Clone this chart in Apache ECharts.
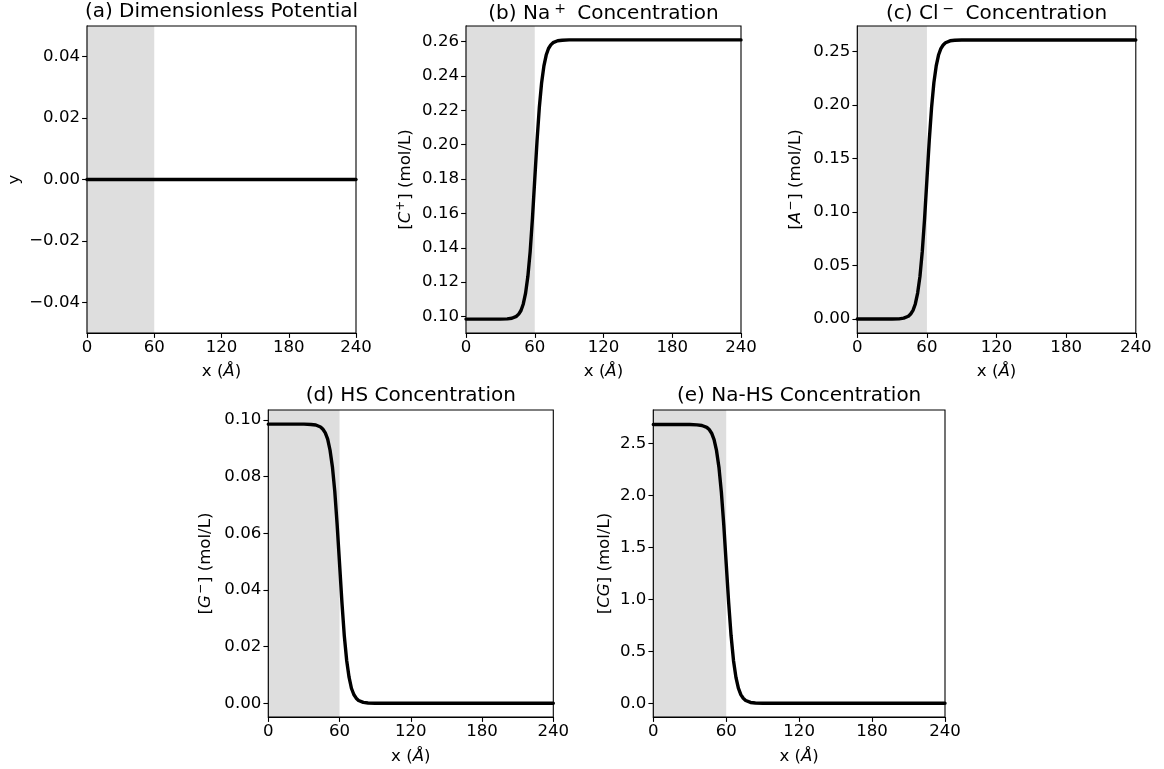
<!DOCTYPE html>
<html>
<head>
<meta charset="utf-8">
<script src="https://cdn.jsdelivr.net/npm/echarts@6/dist/echarts.min.js"></script>
<style>
html,body{margin:0;padding:0;background:#fff;}
#chart{width:1164px;height:769px;}
</style>
</head>
<body>
<div id="chart"></div>
<script>
// ---------------- data ----------------
const xPos = [0,10,20,30,36,40,44,46,48,50,52,54,56,58,60,62,64,66,68,70,72,74,76,80,84,90,100,120,140,160,180,200,220,240];
const potential = [0,0,0,0,0,0,0,0,0,0,0,0,0,0,0,0,0,0,0,0,0,0,0,0,0,0,0,0,0,0,0,0,0,0];
const naConc = [0.0985,0.0985,0.0985,0.0985,0.0986,0.0990,0.1001,0.1014,0.1035,0.1073,0.1136,0.1234,0.1378,0.1572,0.1798,0.2023,0.2217,0.2361,0.2459,0.2522,0.2560,0.2581,0.2594,0.2605,0.2608,0.2610,0.2610,0.2610,0.2610,0.2610,0.2610,0.2610,0.2610,0.2610];
const clConc = [0,0,0,0,0.0002,0.0009,0.0026,0.0047,0.0081,0.0141,0.0243,0.0399,0.0632,0.0942,0.1305,0.1668,0.1978,0.2211,0.2367,0.2469,0.2529,0.2563,0.2584,0.2602,0.2607,0.2610,0.2610,0.2610,0.2610,0.2610,0.2610,0.2610,0.2610,0.2610];
const hsConc = [0.0985,0.0985,0.0985,0.0985,0.0984,0.0982,0.0975,0.0967,0.0954,0.0932,0.0893,0.0834,0.0747,0.0629,0.0493,0.0356,0.0238,0.0151,0.0092,0.0053,0.0031,0.0018,0.0010,0.0003,0.0001,0,0,0,0,0,0,0,0,0];
const cgConc = [2.680,2.680,2.680,2.680,2.677,2.671,2.653,2.632,2.597,2.535,2.431,2.270,2.031,1.713,1.340,0.969,0.649,0.410,0.249,0.145,0.083,0.048,0.027,0.008,0.003,0,0,0,0,0,0,0,0,0];
const shadedRegion = [0, 60];
const xTicks = [0, 60, 120, 180, 240];
const yTicksA = [-0.04, -0.02, 0, 0.02, 0.04];
const yTicksB = [0.10, 0.12, 0.14, 0.16, 0.18, 0.20, 0.22, 0.24, 0.26];
const yTicksC = [0, 0.05, 0.10, 0.15, 0.20, 0.25];
const yTicksD = [0, 0.02, 0.04, 0.06, 0.08, 0.10];
const yTicksE = [0, 0.5, 1.0, 1.5, 2.0, 2.5];
const titles = ['(a) Dimensionless Potential', '(b) Na{sup|+} Concentration', '(c) Cl{sup|−} Concentration', '(d) HS Concentration', '(e) Na-HS Concentration'];
const yNames = ['y', '[{i|C}{sup|+}] (mol/L)', '[{i|A}{sup|−}] (mol/L)', '[{i|G}{sup|−}] (mol/L)', '[{i|CG}] (mol/L)'];
const xName = 'x ({i|Å})';

// ---------------- layout ----------------
const FONT = 'DejaVu Sans';
const FS = 16.6;
const TFS = 20;
const panels = [
  {series: potential, ticks: yTicksA, dec: 2, left: 87, top: 26, w: 269, h: 307, yMin: -0.05, yMax: 0.05, nameGap: 64, xGap: 30},
  {series: naConc, ticks: yTicksB, dec: 2, left: 466, top: 26, w: 275, h: 307, yMin: 0.0904, yMax: 0.2691, nameGap: 50, xGap: 30},
  {series: clConc, ticks: yTicksC, dec: 2, left: 857.3, top: 26, w: 278.5, h: 307, yMin: -0.01305, yMax: 0.27405, nameGap: 51, xGap: 30},
  {series: hsConc, ticks: yTicksD, dec: 2, left: 268.3, top: 410, w: 285, h: 307, yMin: -0.00484, yMax: 0.1035, nameGap: 52, xGap: 31},
  {series: cgConc, ticks: yTicksE, dec: 1, left: 653.3, top: 410, w: 291.7, h: 307, yMin: -0.132, yMax: 2.82, nameGap: 40, xGap: 31}
];

const rich = {
  i: {fontFamily: FONT, fontSize: FS, fontStyle: 'italic', color: '#000'},
  sup: {fontFamily: FONT, fontSize: 12, color: '#000', padding: [0, 1, 9, 1]}
};

function fmt(v, dec) {
  const s = Math.abs(v).toFixed(dec);
  return (v < -1e-12 ? '\u2212' : '') + s;
}

const grid = [], xAxis = [], yAxis = [], series = [], title = [];
panels.forEach((p, k) => {
  grid.push({left: p.left, top: p.top, width: p.w, height: p.h, show: true, z: 10,
    backgroundColor: 'transparent', borderColor: '#000', borderWidth: 1.1, containLabel: false});
  xAxis.push({
    type: 'value', gridIndex: k, min: 0, max: 240, interval: 60,
    name: xName, nameLocation: 'middle', nameGap: p.xGap,
    nameTextStyle: {fontFamily: FONT, fontSize: FS, color: '#000', rich: rich},
    axisLine: {show: true, onZero: false, lineStyle: {color: '#000', width: 1.1}},
    axisTick: {show: true, length: 4.9, lineStyle: {color: '#000', width: 1.1}, customValues: xTicks},
    axisLabel: {fontFamily: FONT, fontSize: FS, color: '#000', margin: 6, customValues: xTicks},
    splitLine: {show: false}
  });
  yAxis.push({
    type: 'value', gridIndex: k, min: p.yMin, max: p.yMax,
    name: yNames[k], nameLocation: 'middle', nameGap: p.nameGap, nameRotate: 90,
    nameTextStyle: {fontFamily: FONT, fontSize: FS, color: '#000', rich: rich},
    axisLine: {show: true, onZero: false, lineStyle: {color: '#000', width: 1.1}},
    axisTick: {show: true, length: 4.9, lineStyle: {color: '#000', width: 1.1}, customValues: p.ticks},
    axisLabel: {fontFamily: FONT, fontSize: FS, color: '#000', margin: 7,
      customValues: p.ticks, formatter: (v) => fmt(v, p.dec)},
    splitLine: {show: false}
  });
  series.push({
    type: 'line', xAxisIndex: k, yAxisIndex: k, data: [], z: 1, silent: true,
    markArea: {silent: true, itemStyle: {color: '#dedede', borderWidth: 0},
      data: [[{xAxis: shadedRegion[0]}, {xAxis: shadedRegion[1]}]]}
  });
  series.push({
    type: 'line', xAxisIndex: k, yAxisIndex: k, z: 3,
    data: xPos.map((x, i) => [x, p.series[i]]),
    showSymbol: false, smooth: false,
    lineStyle: {color: '#000', width: 3.4, join: 'round', cap: 'round'}, silent: true, animation: false
  });
  title.push({
    text: titles[k], left: p.left + p.w / 2, top: p.top - 24, textAlign: 'center', padding: 0,
    textStyle: {fontFamily: FONT, fontSize: TFS, fontWeight: 'normal', color: '#000', rich: {
      sup: {fontFamily: FONT, fontSize: 14, color: '#000', padding: [0, 5, 10, 4]}
    }}
  });
});

const chart = echarts.init(document.getElementById('chart'), null, {renderer: 'canvas'});
chart.setOption({
  animation: false,
  backgroundColor: '#fff',
  title: title, grid: grid, xAxis: xAxis, yAxis: yAxis, series: series
});
</script>
</body>
</html>
